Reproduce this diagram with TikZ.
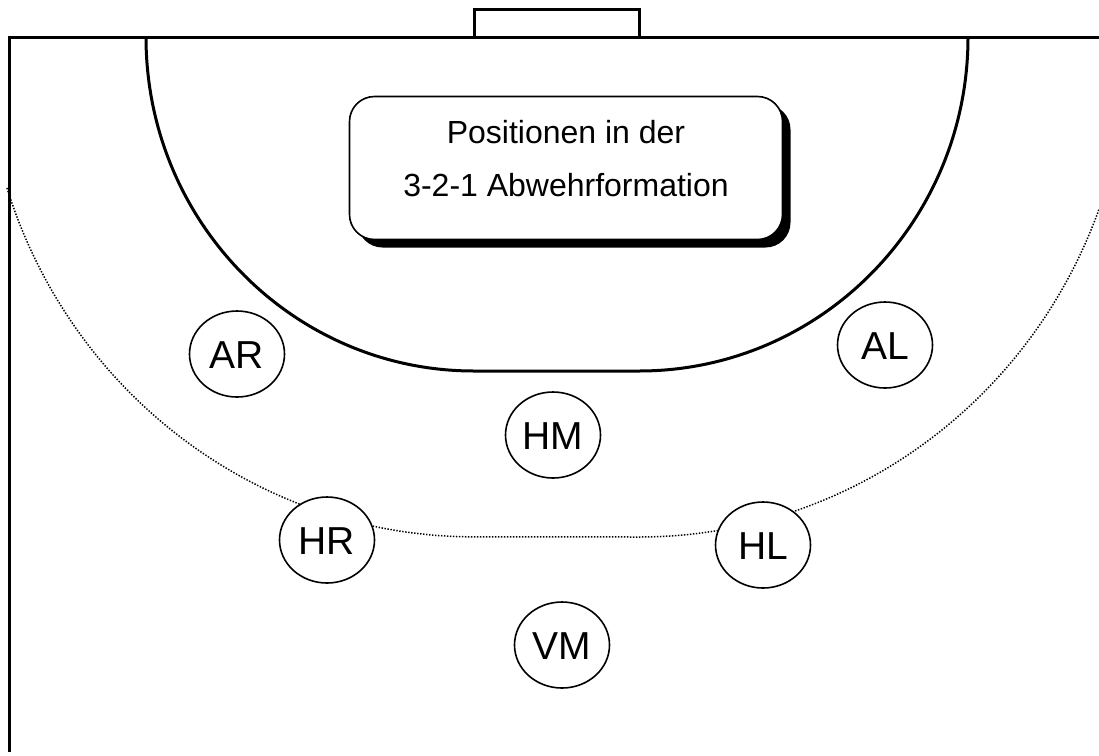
\documentclass[tikz,border=0pt]{standalone}
\usepackage{fontspec}
\setmainfont{Liberation Sans}
\usepackage{tikz}
\usetikzlibrary{shapes.geometric,shadows}
\tikzset{
  court line/.style={
    line width=3pt
  },
  throw line/.style={
    line width=1.5pt,dash pattern=on 1.4pt off 1.6pt
  },
  player/.style={
    ellipse,draw,fill=white,line width=1.6pt,
    minimum width=95pt,minimum height=86pt,inner sep=0pt,
    text height=28pt,text depth=0pt,
    font=\fontsize{39}{39}\selectfont
  },
  info box/.style={
    draw,fill=white,rounded corners=25pt,line width=1.6pt,
    minimum width=433pt,minimum height=143pt,
    align=center,text depth=20pt,
    font=\fontsize{32}{53}\selectfont,
    drop shadow={shadow xshift=8pt,shadow yshift=-8pt,fill=black,opacity=1}
  }
}
\begin{document}
\begin{tikzpicture}[x=1pt,y=-1pt]
  \useasboundingbox (0,0) rectangle (1099,755);

  % side and goal lines
  \draw[court line] (9,752) -- (9,37) -- (1099,37);
  \draw[court line] (474,37) |- (639,9) -- (639,37);

  % 9m line
  \draw[throw line] (7,188)
    arc[start angle=162.4,end angle=90,x radius=490,y radius=500]
    -- (639,537)
    arc[start angle=90,end angle=20.1,x radius=490,y radius=500];

  % 6m line
  \draw[court line] (146,37)
    arc[start angle=180,end angle=90,x radius=328,y radius=334]
    -- (639,371)
    arc[start angle=90,end angle=0,x radius=329,y radius=334];

  \node[info box] (title) at (566,168)
    {Positionen in der\\3-2-1 Abwehrformation};

  \foreach \name/\x/\y in {AR/237/354,AL/885/345,HM/553/435,
                           HR/327/540,HL/763/545,VM/562/645}
    \node[player] (\name) at (\x,\y) {\name};
\end{tikzpicture}
\end{document}
